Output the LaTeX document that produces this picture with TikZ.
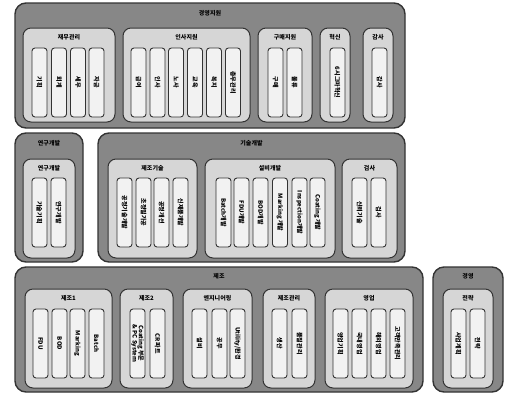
\documentclass[tikz,border=0pt]{standalone}
\usepackage{fontspec}
\newfontfamily\kr{Noto Sans CJK KR}
\usetikzlibrary{positioning}
\definecolor{dark}{rgb}{0.2,0.2,0.2}
\definecolor{grpgray}{rgb}{0.53,0.53,0.53}
\definecolor{subgray}{rgb}{0.84,0.84,0.84}
\definecolor{lfgray}{rgb}{0.95,0.95,0.95}

\begin{document}
\begin{tikzpicture}[x=1pt, y=-1pt,
		grp/.style = {rectangle, draw=dark, fill=grpgray, line width=1.4pt, rounded corners=11pt, inner sep=0},
		sub/.style = {rectangle, draw=dark, fill=subgray, line width=1pt, rounded corners=8pt, inner sep=0},
		lf/.style  = {rectangle, draw=dark, fill=lfgray, line width=0.9pt, rounded corners=3pt, rotate=-90,
		              minimum width=69pt, minimum height=15pt, inner sep=0, align=center,
		              font=\kr\bfseries\fontsize{6}{6.2}\selectfont},
		ttl/.style = {inner sep=0, font=\kr\bfseries\fontsize{6}{6.5}\selectfont}
		]
		\useasboundingbox (0,0) rectangle (505,394);
		
		%Groups
		\node[grp, minimum width=390pt, minimum height=125pt]	(mgmt)	at	(210, 65.5)		{};
		\node[grp, minimum width=68pt,  minimum height=129pt]	(rnd)	at	(49, 197.5)		{};
		\node[grp, minimum width=307pt, minimum height=129pt]	(tech)	at	(251.5, 197.5)	{};
		\node[grp, minimum width=408pt, minimum height=125pt]	(mfg)	at	(219, 329.5)	{};
		\node[grp, minimum width=70pt,  minimum height=125pt]	(strat)	at	(468, 329.5)	{};
		\node[ttl, below=8pt of mgmt.north]		{경영지원};
		\node[ttl, below=8pt of rnd.north]		{연구개발};
		\node[ttl, below=8pt of tech.north]		{기술개발};
		\node[ttl, below=7pt of mfg.north]		{제조};
		\node[ttl, below=7pt of strat.north]	{경영};
		
		%Sub groups
		\node[sub, minimum width=92pt,  minimum height=94pt]	(fin)	at	(69, 75)		{};
		\node[sub, minimum width=127pt, minimum height=94pt]	(hr)	at	(186.5, 75)		{};
		\node[sub, minimum width=54pt,  minimum height=94pt]	(pur)	at	(285, 75)		{};
		\node[sub, minimum width=30pt,  minimum height=94pt]	(inno)	at	(335, 75)		{};
		\node[sub, minimum width=30pt,  minimum height=94pt]	(audit)	at	(378, 75)		{};
		\node[sub, minimum width=52pt,  minimum height=99pt]	(rnd2)	at	(49, 208.5)		{};
		\node[sub, minimum width=89pt,  minimum height=99pt]	(proc)	at	(152.5, 208.5)	{};
		\node[sub, minimum width=130pt, minimum height=99pt]	(equip)	at	(270, 208.5)	{};
		\node[sub, minimum width=55pt,  minimum height=99pt]	(insp)	at	(369.5, 208.5)	{};
		\node[sub, minimum width=87pt,  minimum height=99pt]	(m1)	at	(68.5, 338.5)	{};
		\node[sub, minimum width=53pt,  minimum height=99pt]	(m2)	at	(146.5, 338.5)	{};
		\node[sub, minimum width=69pt,  minimum height=99pt]	(eng)	at	(217.5, 338.5)	{};
		\node[sub, minimum width=52pt,  minimum height=99pt]	(mctl)	at	(289, 338.5)	{};
		\node[sub, minimum width=88pt,  minimum height=99pt]	(sales)	at	(369, 338.5)	{};
		\node[sub, minimum width=50pt,  minimum height=99pt]	(plan)	at	(468, 338.5)	{};
		\foreach \s/\t in {fin/재무관리, hr/인사지원, pur/구매지원, inno/혁신, audit/감사,
		                   rnd2/연구개발, proc/제조기술, equip/설비개발, insp/검사,
		                   m1/제조1, m2/제조2, eng/엔지니어링, mctl/제조관리, sales/영업, plan/전략}
			\node[ttl, below=6.5pt of \s.north] {\t};
		
		%Leaves
		\node[lf]	(f1)	at	(39.5, 82.5)	{기획};
		\node[lf]	(f2)	at	(59, 82.5)		{회계};
		\node[lf]	(f3)	at	(78, 82.5)		{세무};
		\node[lf]	(f4)	at	(96.5, 82.5)	{자금};
		\node[lf]	(h1)	at	(138.5, 82.5)	{급여};
		\node[lf]	(h2)	at	(157.5, 82.5)	{인사};
		\node[lf]	(h3)	at	(176, 82.5)		{노사};
		\node[lf]	(h4)	at	(195, 82.5)		{교육};
		\node[lf]	(h5)	at	(214, 82.5)		{복지};
		\node[lf]	(h6)	at	(233, 82.5)		{총무관리};
		\node[lf]	(p1)	at	(275.5, 82.5)	{구매};
		\node[lf]	(p2)	at	(294.5, 82.5)	{물류};
		\node[lf]	(i1)	at	(337.5, 82.5)	{6시그마혁신};
		\node[lf]	(a1)	at	(379.5, 82.5)	{감사};
		
		\node[lf]	(r1)	at	(39.5, 212.5)	{기술기획};
		\node[lf]	(r2)	at	(58.5, 212.5)	{연구개발};
		\node[lf]	(c1)	at	(124.5, 212.5)	{공정기술개발};
		\node[lf]	(c2)	at	(143.5, 212.5)	{초정밀가공};
		\node[lf]	(c3)	at	(161.5, 212.5)	{공정개선};
		\node[lf]	(c4)	at	(180.5, 212.5)	{신제품개발};
		\node[lf]	(e1)	at	(223.5, 212.5)	{Batch개발};
		\node[lf]	(e2)	at	(241.5, 212.5)	{FDU개발};
		\node[lf]	(e3)	at	(260.5, 212.5)	{BOD개발};
		\node[lf]	(e4)	at	(280, 212.5)	{Marking 개발};
		\node[lf]	(e5)	at	(299.5, 212.5)	{Inspection개발};
		\node[lf]	(e6)	at	(317.5, 212.5)	{Coating 개발};
		\node[lf]	(q1)	at	(359.5, 212.5)	{신뢰기술};
		\node[lf]	(q2)	at	(378.5, 212.5)	{검사};
		
		\node[lf]	(b1)	at	(40.5, 343.5)	{FDU};
		\node[lf]	(b2)	at	(59.5, 343.5)	{BOD};
		\node[lf]	(b3)	at	(77.5, 343.5)	{Marking};
		\node[lf]	(b4)	at	(96.5, 343.5)	{Batch};
		\node[lf]	(d1)	at	(137.5, 343.5)	{Coating 부문\\\& PC System};
		\node[lf]	(d2)	at	(157.5, 343.5)	{CR 파트};
		\node[lf]	(n1)	at	(199.5, 343.5)	{설비};
		\node[lf]	(n2)	at	(219.5, 343.5)	{공무};
		\node[lf]	(n3)	at	(237.5, 343.5)	{Utility/환경};
		\node[lf]	(k1)	at	(279.5, 343.5)	{생산};
		\node[lf]	(k2)	at	(299.5, 343.5)	{품질관리};
		\node[lf]	(s1)	at	(340.5, 343.5)	{영업기획};
		\node[lf]	(s2)	at	(359.5, 343.5)	{국내영업};
		\node[lf]	(s3)	at	(378.5, 343.5)	{해외영업};
		\node[lf]	(s4)	at	(397.5, 343.5)	{고객만족관리};
		\node[lf]	(g1)	at	(458.5, 343.5)	{사업계획};
		\node[lf]	(g2)	at	(477.5, 343.5)	{전략};
	\end{tikzpicture}
\end{document}
